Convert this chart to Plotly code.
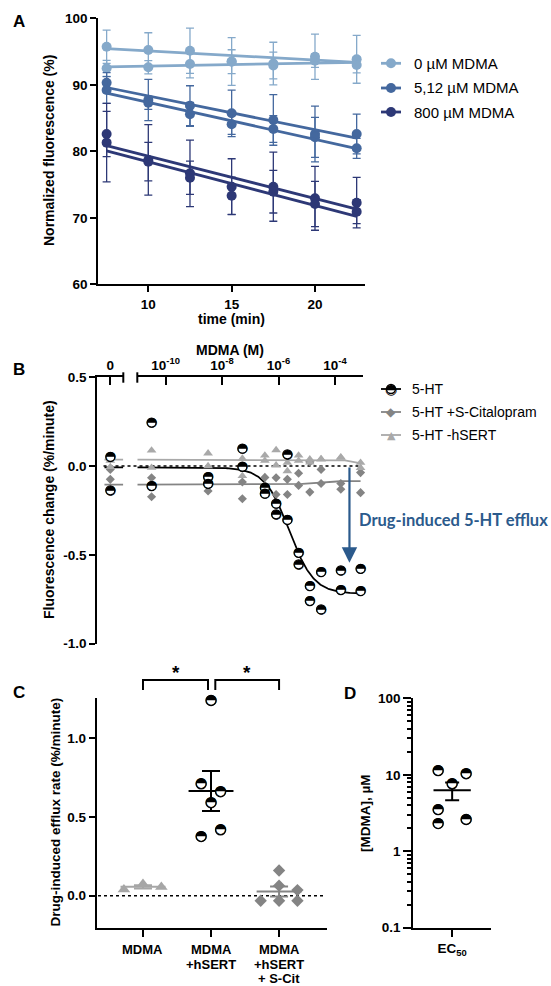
import numpy as np
import plotly.graph_objects as go

W, H = 551, 986


def px(x):
    return x / W


def py(y):
    return 1 - y / H


FONT = "Liberation Sans"
HALF = "\u25D3"  # circle with upper half black

# ---------------- Panel A data ----------------
TIME_MIN = [7.5, 10, 12.5, 15, 17.5, 20, 22.5]
A_LABELS = ["0 µM MDMA", "5,12 µM MDMA", "800 µM MDMA"]
A_COLORS = ["#85A9CA", "#44689E", "#2D3876"]
A0_REP1 = [95.73, 95.23, 95.13, 93.5, 93.2, 94.23, 93.83]
A0_REP1_SD = [2.5, 2.6, 3.4, 3.6, 3.2, 3.4, 3.6]
A0_REP2 = [92.48, 92.63, 93.13, 93.47, 92.9, 93.63, 92.98]
A0_REP2_SD = [1.2, 1.0, 2.1, 1.8, 2.0, 1.0, 1.2]
A5_REP1 = [90.32, 87.71, 86.86, 85.71, 84.71, 82.6, 82.6]
A5_REP1_SD = [1.5, 3.1, 3.0, 3.5, 3.8, 4.2, 3.0]
A5_REP2 = [89.22, 87.31, 85.56, 84.06, 83.35, 82.1, 80.45]
A5_REP2_SD = [2.0, 1.0, 1.8, 1.5, 2.0, 3.0, 1.5]
A800_REP1 = [82.6, 78.7, 76.69, 74.68, 74.68, 72.93, 72.27]
A800_REP1_SD = [3.4, 5.3, 5.0, 4.2, 5.2, 4.8, 3.8]
A800_REP2 = [81.3, 78.44, 76.03, 73.32, 73.92, 72.07, 70.92]
A800_REP2_SD = [5.9, 2.9, 2.5, 2.8, 3.2, 3.4, 1.8]

# ---------------- Panel B data ----------------
B_CONC_M = [3.2e-11, 3.2e-9, 5.24e-8, 3.28e-7, 8.19e-7, 2.05e-6,
            5.12e-6, 1.28e-5, 3.2e-5, 1.6e-4, 8.0e-4]
B_5HT_ZERO = [0.051, -0.137]
B_5HT_R1 = [0.245, -0.062, 0.098, -0.122, -0.212, 0.066, -0.489, -0.677, -0.598, -0.588, -0.579]
B_5HT_R2 = [-0.113, -0.100, -0.004, -0.156, -0.272, -0.304, -0.554, -0.761, -0.808, -0.699, -0.705]
B_SCIT_ZERO = [-0.019, -0.075]
B_SCIT_R1 = [-0.066, -0.08, -0.09, -0.064, -0.066, -0.075, -0.041, 0.023, -0.019, -0.098, -0.037]
B_SCIT_R2 = [-0.173, -0.141, -0.184, -0.11, -0.16, -0.16, -0.109, -0.147, -0.098, -0.131, -0.15]
B_NOSERT_ZERO = [0.03, -0.005]
B_NOSERT_R1 = [0.088, 0.072, 0.042, 0.06, 0.09, 0.019, 0.06, 0.038, 0.038, 0.047, 0.019]
B_NOSERT_R2 = [-0.009, 0.0, -0.056, 0.03, 0.004, -0.028, 0.03, 0.02, 0.04, 0.05, -0.01]
B_LABELS = ["5-HT", "5-HT +S-Citalopram", "5-HT -hSERT"]
B_TICKVALS = [1e-10, 1e-8, 1e-6, 1e-4]
B_TICKTEXT = ["10<sup>-10</sup>", "10<sup>-8</sup>", "10<sup>-6</sup>", "10<sup>-4</sup>"]
# fitted dose-response parameters (top, bottom, logEC50, hill)
FIT_5HT = (-0.008, -0.72, -5.62, 1.0)
FIT_SCIT = (-0.105, -0.085, -4.8, 1.5)
FIT_NOSERT = (0.036, 0.008, -3.3, 2.0)

# ---------------- Panel C data ----------------
C_CATEGORIES = [["MDMA"], ["MDMA", "+hSERT"], ["MDMA", "+hSERT", "+ S-Cit"]]
C_MDMA = [0.04, 0.075, 0.055]
C_HSERT = [1.24, 0.71, 0.66, 0.59, 0.376, 0.418]
C_SCIT = [0.16, 0.064, 0.036, -0.032, -0.032, -0.032]
C_MDMA_JIT = [-0.28, 0.0, 0.27]
C_HSERT_JIT = [0.0, -0.145, 0.14, 0.0, -0.145, 0.14]
C_SCIT_JIT = [0.0, 0.0, 0.27, -0.27, 0.0, 0.27]

# ---------------- Panel D data ----------------
D_EC50_UM = [11.3, 10.3, 7.6, 3.5, 2.6, 2.3]
D_JIT = [-0.18, 0.18, 0.0, -0.18, 0.18, -0.18]

GRAY_D = "#848484"
GRAY_T = "#A9A9A9"
BLUE_ARROW = "#2B5A8C"

fig = go.Figure()

# ---------- Panel A traces ----------
a_sets = [
    [(A0_REP1, A0_REP1_SD), (A0_REP2, A0_REP2_SD)],
    [(A5_REP1, A5_REP1_SD), (A5_REP2, A5_REP2_SD)],
    [(A800_REP1, A800_REP1_SD), (A800_REP2, A800_REP2_SD)],
]
t = np.array(TIME_MIN)
for col, reps in zip(A_COLORS, a_sets):
    for vals, sd in reps:
        fig.add_trace(go.Scatter(
            x=TIME_MIN, y=vals, mode="markers", xaxis="x", yaxis="y",
            marker=dict(size=10, color=col),
            error_y=dict(type="data", array=sd, visible=True, color=col,
                         thickness=1.3, width=4),
            showlegend=False, cliponaxis=False, hoverinfo="skip"))
for col, reps in zip(A_COLORS, a_sets):
    for vals, sd in reps:
        k, b = np.polyfit(t, np.array(vals), 1)
        xs = np.array([t[0], t[-1]])
        fig.add_trace(go.Scatter(
            x=xs, y=k * xs + b, mode="lines", xaxis="x", yaxis="y",
            line=dict(color=col, width=2.8), showlegend=False, hoverinfo="skip"))


def logistic(logx, p):
    top, bottom, c, h = p
    return bottom + (top - bottom) / (1 + 10 ** ((logx - c) * h))


# ---------- Panel B traces ----------
lx = np.linspace(-11, np.log10(B_CONC_M[-1]), 300)
for p, col, w in [(FIT_SCIT, GRAY_D, 1.8), (FIT_NOSERT, GRAY_T, 1.8), (FIT_5HT, "black", 1.8)]:
    fig.add_trace(go.Scatter(x=10 ** lx, y=logistic(lx, p), mode="lines",
                             xaxis="x3", yaxis="y2", line=dict(color=col, width=w),
                             showlegend=False, hoverinfo="skip"))
    fig.add_trace(go.Scatter(x=[-0.45, 1.0], y=[logistic(-20, p)] * 2, mode="lines",
                             xaxis="x2", yaxis="y2", line=dict(color=col, width=w),
                             showlegend=False, hoverinfo="skip"))

conc2 = B_CONC_M + B_CONC_M
for zero, r1, r2, sym, col, size in [
    (B_SCIT_ZERO, B_SCIT_R1, B_SCIT_R2, "diamond", GRAY_D, 7),
    (B_NOSERT_ZERO, B_NOSERT_R1, B_NOSERT_R2, "triangle-up", GRAY_T, 8.5),
]:
    fig.add_trace(go.Scatter(x=[0] * len(zero), y=zero, mode="markers", xaxis="x2", yaxis="y2",
                             marker=dict(symbol=sym, size=size, color=col),
                             showlegend=False, cliponaxis=False, hoverinfo="skip"))
    fig.add_trace(go.Scatter(x=conc2, y=r1 + r2, mode="markers", xaxis="x3", yaxis="y2",
                             marker=dict(symbol=sym, size=size, color=col),
                             showlegend=False, cliponaxis=False, hoverinfo="skip"))


def half_circles(x, y, xa, ya, size=9, fsize=13):
    fig.add_trace(go.Scatter(
        x=x, y=y, mode="markers+text", xaxis=xa, yaxis=ya,
        marker=dict(symbol="circle", size=size, color="white",
                    line=dict(color="black", width=1.3)),
        text=[HALF] * len(y), textposition="middle center",
        textfont=dict(family="DejaVu Sans", size=fsize, color="black"),
        showlegend=False, cliponaxis=False, hoverinfo="skip"))


half_circles([0] * len(B_5HT_ZERO), B_5HT_ZERO, "x2", "y2")
half_circles(conc2, B_5HT_R1 + B_5HT_R2, "x3", "y2")

# ---------- Panel C traces ----------
groups_c = [
    (0, C_MDMA, C_MDMA_JIT, "triangle-up", "#A6A6A6"),
    (1, C_HSERT, C_HSERT_JIT, None, "black"),
    (2, C_SCIT, C_SCIT_JIT, "diamond", GRAY_D),
]
for idx, vals, jit, sym, col in groups_c:
    arr = np.array(vals)
    m = arr.mean()
    sem = arr.std(ddof=1) / np.sqrt(len(arr))
    lc = col
    fig.add_trace(go.Scatter(x=[idx - 0.33, idx + 0.33], y=[m, m], mode="lines",
                             xaxis="x4", yaxis="y4", line=dict(color=lc, width=2),
                             showlegend=False, hoverinfo="skip"))
    fig.add_trace(go.Scatter(x=[idx], y=[m], mode="markers", xaxis="x4", yaxis="y4",
                             marker=dict(size=1, color="rgba(0,0,0,0)"),
                             error_y=dict(type="data", array=[sem], visible=True,
                                          color=lc, thickness=2, width=9),
                             showlegend=False, hoverinfo="skip"))
    xs = [idx + j for j in jit]
    if sym is None:
        half_circles(xs, vals, "x4", "y4", size=10, fsize=14)
    else:
        fig.add_trace(go.Scatter(x=xs, y=vals, mode="markers", xaxis="x4", yaxis="y4",
                                 marker=dict(symbol=sym, size=9.5 if sym == "diamond" else 11, color=col),
                                 showlegend=False, cliponaxis=False, hoverinfo="skip"))

# ---------- Panel D traces ----------
d = np.array(D_EC50_UM)
dm = d.mean()
dsem = d.std(ddof=1) / np.sqrt(len(d))
fig.add_trace(go.Scatter(x=[-0.24, 0.24], y=[dm, dm], mode="lines", xaxis="x5", yaxis="y5",
                         line=dict(color="black", width=2), showlegend=False, hoverinfo="skip"))
fig.add_trace(go.Scatter(x=[0], y=[dm], mode="markers", xaxis="x5", yaxis="y5",
                         marker=dict(size=1, color="rgba(0,0,0,0)"),
                         error_y=dict(type="data", array=[dsem], visible=True,
                                      color="black", thickness=2, width=7),
                         showlegend=False, hoverinfo="skip"))
half_circles(D_JIT, D_EC50_UM, "x5", "y5", size=10, fsize=14)

# ---------- axes ----------
tickfont = dict(family=FONT, size=13.5, color="black", weight="bold")
common = dict(showgrid=False, zeroline=False, showline=True, linecolor="black",
              linewidth=2, ticks="outside", ticklen=6, tickwidth=2, tickcolor="black",
              tickfont=tickfont, automargin=False, fixedrange=True)

layout = dict(
    width=W, height=H, margin=dict(l=0, r=0, t=0, b=0), autosize=False,
    paper_bgcolor="white", plot_bgcolor="rgba(0,0,0,0)", template="none",
    showlegend=False,
    xaxis=dict(common, domain=[px(98.3), px(365)], range=[7, 23], tickvals=[10, 15, 20], anchor="y"),
    yaxis=dict(common, domain=[py(284.3), py(18.3)], range=[60, 100],
               tickvals=[60, 70, 80, 90, 100], anchor="x"),
    xaxis2=dict(common, domain=[px(97.3), px(123.3)], range=[-1, 1], tickvals=[0], ticktext=["0"],
                side="top", anchor="y2", ticks="inside", ticklen=8),
    xaxis3=dict(common, type="log", domain=[px(137.3), px(363.3)], range=[-11, -3],
                tickvals=B_TICKVALS, ticktext=B_TICKTEXT, side="top", anchor="y2",
                ticks="inside", ticklen=8),
    yaxis2=dict(common, domain=[py(643.5), py(377.3)], range=[-1, 0.5],
                tickvals=[-1, -0.5, 0, 0.5], ticktext=["-1.0", "-0.5", "0.0", "0.5"], anchor="x2"),
    xaxis4=dict(common, domain=[px(96.7), px(326.7)], range=[-0.68, 2.7], tickvals=[0, 1, 2],
                ticktext=["", "", ""], anchor="y4", ticklen=7),
    yaxis4=dict(common, domain=[py(927.7), py(698.3)], range=[-0.203, 1.254],
                tickvals=[0, 0.5, 1], ticktext=["0.0", "0.5", "1.0"], anchor="x4"),
    xaxis5=dict(common, domain=[px(413.3), px(491)], range=[-0.5, 0.5], tickvals=[0],
                ticktext=["EC<sub>50</sub>"], anchor="y5", ticklen=7),
    yaxis5=dict(common, type="log", domain=[py(927.7), py(698.3)], range=[-1, 2],
                tickvals=[0.1, 1, 10, 100], ticktext=["0.1", "1", "10", "100"], anchor="x5",
                ticklen=8,
                minor=dict(ticks="outside", ticklen=4, tickwidth=1.5, tickcolor="black",
                           tickvals=[k * m for m in (0.1, 1, 10) for k in range(2, 10)])),
)
fig.update_layout(**layout)

shapes = []
ann = []

# category labels for panel C (one annotation per text line)
for idx, lines in enumerate(C_CATEGORIES):
    for li, txt in enumerate(lines):
        ann.append(dict(text=txt, xref="x4", yref="paper", x=idx, y=py(949.5 + 14.5 * li),
                        showarrow=False, xanchor="center", yanchor="middle",
                        font=dict(family=FONT, size=13, color="black", weight="bold")))

# break marks on B top axis
for xb in (123.3, 137.3):
    shapes.append(dict(type="line", xref="paper", yref="paper", x0=px(xb), x1=px(xb),
                       y0=py(372.3), y1=py(382.7), line=dict(color="black", width=2)))
# dotted zero lines
shapes.append(dict(type="line", xref="paper", yref="y2", x0=px(103.5), x1=px(362), y0=0, y1=0,
                   line=dict(color="black", width=1.5, dash="dot"), layer="below"))
shapes.append(dict(type="line", xref="paper", yref="y4", x0=px(98), x1=px(325), y0=0, y1=0,
                   line=dict(color="black", width=1.5, dash="dot"), layer="below"))

# significance brackets (panel C)
for x0, x1 in [(0, 0.956), (1.063, 2.0)]:
    shapes.append(dict(type="path", xref="x4", yref="paper",
                       path=f"M {x0},{py(690)} L {x0},{py(680)} L {x1},{py(680)} L {x1},{py(690)}",
                       line=dict(color="black", width=2)))
for xs in (0.48, 1.53):
    ann.append(dict(text="*", xref="x4", yref="paper", x=xs, y=py(672), showarrow=False,
                    font=dict(family=FONT, size=19, color="black", weight="bold"),
                    xanchor="center", yanchor="middle"))

# arrow in panel B
ann.append(dict(text="", x=-3.49, y=-0.545, ax=-3.49, ay=0, xref="x3", yref="y2",
                axref="x3", ayref="y2", showarrow=True, arrowhead=2, arrowsize=1.4,
                arrowwidth=2.2, arrowcolor=BLUE_ARROW, standoff=0, startstandoff=0))
ann.append(dict(text="Drug-induced 5-HT efflux", xref="paper", yref="paper", x=px(357),
                y=py(520), xanchor="left", yanchor="middle", showarrow=False,
                font=dict(family="Lato", size=16.5, color=BLUE_ARROW, weight="bold")))

# panel letters
for lab, xx, yy in [("A", 19, 22), ("B", 19, 370), ("C", 19, 692), ("D", 350, 693)]:
    ann.append(dict(text=lab, xref="paper", yref="paper", x=px(xx), y=py(yy), showarrow=False,
                    xanchor="center", yanchor="middle",
                    font=dict(family=FONT, size=17, color="black", weight="bold")))

# axis titles
titles = [
    ("Normalized fluorescence (%)", 49, 151, -90, 14),
    ("time (min)", 231.7, 319, 0, 14),
    ("MDMA (M)", 230, 350, 0, 14),
    ("Fluorescence change (%/minute)", 49, 510, -90, 14),
    ("Drug-induced efflux rate (%/minute)", 54.5, 812, -90, 13.5),
    ("[MDMA], µM", 365, 813, -90, 13.5),
]
for txt, xx, yy, ang, fs in titles:
    ann.append(dict(text=txt, xref="paper", yref="paper", x=px(xx), y=py(yy), showarrow=False,
                    textangle=ang, xanchor="center", yanchor="middle",
                    font=dict(family=FONT, size=fs, color="black", weight="bold")))

# legend A
for lab, col, yy in zip(A_LABELS, A_COLORS, [63.3, 88, 112]):
    shapes.append(dict(type="line", xref="paper", yref="paper", x0=px(381), x1=px(401),
                       y0=py(yy), y1=py(yy), line=dict(color=col, width=2.8)))
    shapes.append(dict(type="circle", xref="paper", yref="paper", xsizemode="pixel",
                       ysizemode="pixel", xanchor=px(391), yanchor=py(yy), x0=-5, x1=5,
                       y0=-5, y1=5, fillcolor=col, line=dict(width=0)))
    ann.append(dict(text=lab, xref="paper", yref="paper", x=px(412), y=py(yy), showarrow=False,
                    xanchor="left", yanchor="middle",
                    font=dict(family=FONT, size=15, color="black")))

# legend B
leg_b = [(B_LABELS[0], "black", HALF, 14), (B_LABELS[1], GRAY_D, "\u25C6", 12),
         (B_LABELS[2], GRAY_T, "\u25B2", 11)]
for (lab, col, glyph, gs), yy in zip(leg_b, [389, 412, 435]):
    shapes.append(dict(type="line", xref="paper", yref="paper", x0=px(381), x1=px(401),
                       y0=py(yy), y1=py(yy), line=dict(color=col, width=1.8)))
    if glyph == HALF:
        shapes.append(dict(type="circle", xref="paper", yref="paper", xsizemode="pixel",
                           ysizemode="pixel", xanchor=px(391), yanchor=py(yy), x0=-4.5, x1=4.5,
                           y0=-4.5, y1=4.5, fillcolor="white",
                           line=dict(color="black", width=1.3)))
    ann.append(dict(text=glyph, xref="paper", yref="paper", x=px(391), y=py(yy), showarrow=False,
                    xanchor="center", yanchor="middle",
                    font=dict(family="DejaVu Sans", size=gs, color=col)))
    ann.append(dict(text=lab, xref="paper", yref="paper", x=px(410), y=py(yy), showarrow=False,
                    xanchor="left", yanchor="middle",
                    font=dict(family=FONT, size=14, color="black")))

fig.update_layout(shapes=shapes, annotations=ann)
fig.write_html("out.html", config={"displayModeBar": False},
               post_script="document.body.style.margin='0';document.body.style.overflow='hidden';")
